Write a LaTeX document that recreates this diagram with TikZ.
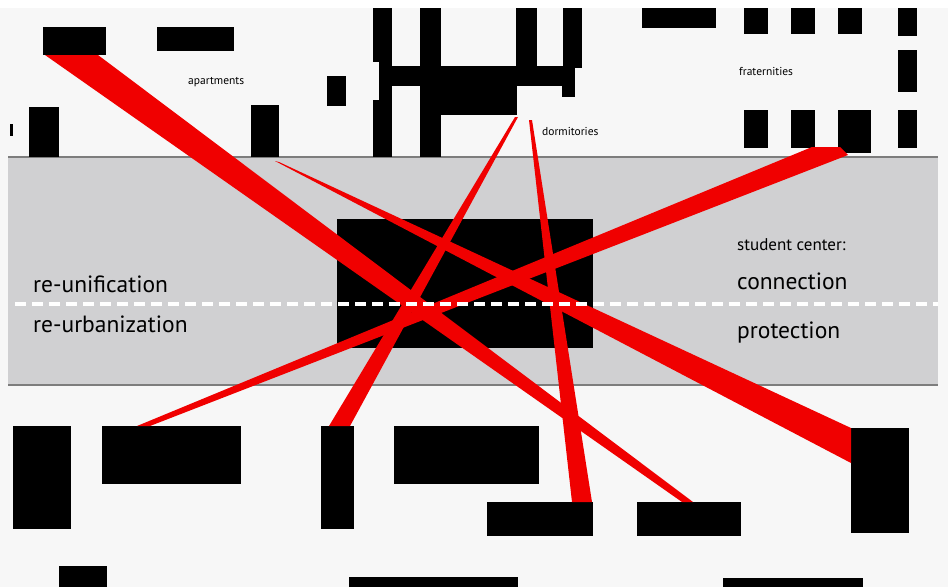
\documentclass[tikz,border=0pt]{standalone}
\usepackage{fontspec}
\setmainfont{PT Sans}
\usetikzlibrary{positioning}

\definecolor{beamred}{RGB}{240,0,0}
\definecolor{roadgray}{RGB}{208,208,210}
\definecolor{paper}{RGB}{247,247,247}
\definecolor{edgegray}{RGB}{125,125,125}

\begin{document}
\begin{tikzpicture}[x=1pt, y=-1pt,
  bldg/.style={fill=black},
  beam/.style={fill=beamred},
  bigtext/.style={anchor=base west, inner sep=0pt, font=\fontsize{23.5}{28}\selectfont},
  midtext/.style={anchor=base west, inner sep=0pt, font=\fontsize{17}{20}\selectfont},
  tinytext/.style={anchor=base west, inner sep=0pt, font=\fontsize{11.5}{13}\selectfont}]
  \useasboundingbox (0,0) rectangle (948,587);
  \fill[paper] (0,0) rectangle (948,587);
  \fill[white] (0,0) rectangle (948,8);

  % Street band
  \fill[roadgray] (8,157) rectangle (938,385);
  \draw[edgegray, line width=1.5pt] (8,157) -- (938,157);
  \draw[edgegray, line width=1.5pt] (8,385) -- (938,385);

  % Apartments (top left)
  \foreach \xa/\ya/\xb/\yb in {43/27/106/55, 157/27/234/51, 29/107/59/157,
      251/105/279/157, 10/124/13/136, 327/76/346/106}
    \fill[bldg] (\xa,\ya) rectangle (\xb,\yb);

  % Dormitories complex
  \foreach \xa/\ya/\xb/\yb in {373/8/392/62, 379/62/392/100, 373/100/392/157,
      379/66/563/86, 420/8/441/157, 441/66/517/115, 516/8/537/68,
      563/8/582/68, 562/68/575/97}
    \fill[bldg] (\xa,\ya) rectangle (\xb,\yb);

  % Fraternities (top right)
  \foreach \xa/\ya/\xb/\yb in {642/8/716/28, 744/8/768/34, 791/8/815/34,
      838/8/862/34, 898/8/917/36, 898/50/917/92, 744/110/768/148,
      791/110/815/148, 838/110/871/153, 898/110/917/148}
    \fill[bldg] (\xa,\ya) rectangle (\xb,\yb);

  % Buildings south of the street
  \foreach \xa/\ya/\xb/\yb in {13/426/71/529, 102/426/241/484, 321/426/354/529,
      394/426/539/484, 487/502/593/536, 637/502/741/536, 851/428/909/533,
      59/566/107/587, 349/577/518/587, 723/578/863/587}
    \fill[bldg] (\xa,\ya) rectangle (\xb,\yb);

  % Student center
  \fill[bldg] (337,219) rectangle (593,348);

  % Red beams
  \fill[beam] (45,55) -- (98,55) -- (693,502) -- (682,502) -- cycle;
  \fill[beam] (275,161) -- (279,162) -- (851,428) -- (851,463) -- cycle;
  \fill[beam] (137,426) -- (812,147) -- (840,147) -- (848,155) -- (150,426) -- cycle;
  \fill[beam] (515,117) -- (518,117) -- (350,426) -- (329,426) -- cycle;
  \fill[beam] (529,120) -- (532,120) -- (592,502) -- (572,502) -- cycle;

  % Center line
  \draw[white, line width=3.5pt, dash pattern=on 11pt off 6pt] (15,304) -- (938,304);

  % Labels
  \node[bigtext] (reunif) at (33,292) {re-unification};
  \node[bigtext] (reurban) at (33,332) {re-urbanization};
  \node[midtext] (stucenter) at (737,250) {student center:};
  \node[bigtext] (connect) at (737,289) {connection};
  \node[bigtext] (protect) at (737,338) {protection};
  \node[tinytext] (apart) at (188,84) {apartments};
  \node[tinytext] (dorms) at (542,135) {dormitories};
  \node[tinytext] (frats) at (739,75) {fraternities};
\end{tikzpicture}
\end{document}
